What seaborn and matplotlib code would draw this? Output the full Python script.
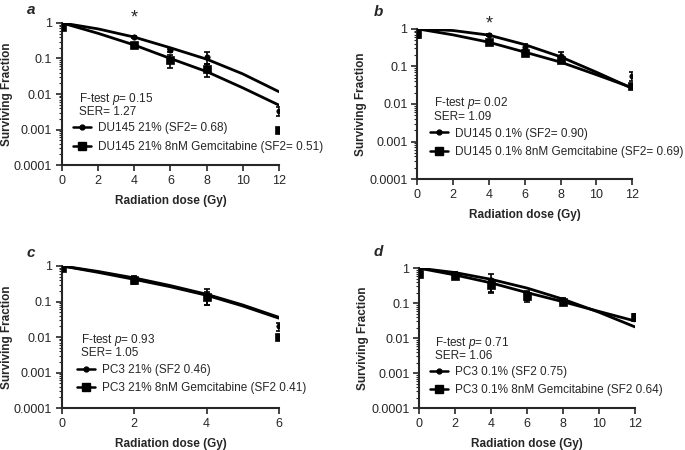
import matplotlib
matplotlib.use("Agg")
import matplotlib.pyplot as plt
import seaborn as sns
import numpy as np
from matplotlib.lines import Line2D
from matplotlib.ticker import LogLocator, NullFormatter

# ---- data ----
# panel a: DU145 21%
a_dose = [0, 4, 6, 8, 12]
a_ctl = [1.0, 0.40, 0.17, 0.11, 0.0033]
a_ctl_err = [0.08, 0.02, 0.02, 0.04, 0.0009]
a_gem = [0.78, 0.24, 0.09, 0.05, 0.001]
a_gem_err = [0.12, 0.02, 0.035, 0.02, 0.0]
a_fit_x = [0, 2, 4, 6, 8, 10, 12]
a_fit_ctl = [1.0, 0.68, 0.40, 0.20, 0.096, 0.037, 0.0117]
a_fit_gem = [1.0, 0.51, 0.24, 0.10, 0.043, 0.015, 0.0049]

# panel b: DU145 0.1%
b_dose = [0, 4, 6, 8, 12]
b_ctl = [0.95, 0.68, 0.33, 0.19, 0.055]
b_ctl_err = [0.08, 0.05, 0.06, 0.05, 0.015]
b_gem = [0.72, 0.44, 0.23, 0.15, 0.03]
b_gem_err = [0.15, 0.03, 0.04, 0.03, 0.005]
b_fit_x = [0, 2, 4, 6, 8, 10, 12]
b_fit_ctl = [1.0, 0.90, 0.68, 0.38, 0.18, 0.07, 0.026]
b_fit_gem = [1.0, 0.69, 0.44, 0.24, 0.13, 0.06, 0.027]

# panel c: PC3 21%
c_dose = [0, 2, 4, 6]
c_ctl = [1.0, 0.45, 0.15, 0.02]
c_ctl_err = [0.08, 0.06, 0.07, 0.005]
c_gem = [0.85, 0.40, 0.13, 0.01]
c_gem_err = [0.1, 0.08, 0.05, 0.0]
c_fit_x = [0, 1, 2, 3, 4, 5, 6]
c_fit_ctl = [1.0, 0.70, 0.46, 0.28, 0.16, 0.08, 0.036]
c_fit_gem = [1.0, 0.66, 0.42, 0.26, 0.15, 0.075, 0.034]

# panel d: PC3 0.1%
d_dose = [0, 2, 4, 6, 8, 12]
d_ctl = [0.95, 0.70, 0.45, 0.17, 0.12, 0.04]
d_ctl_err = [0.08, 0.1, 0.25, 0.05, 0.02, 0.008]
d_gem = [0.70, 0.60, 0.33, 0.16, 0.11, 0.04]
d_gem_err = [0.15, 0.08, 0.12, 0.05, 0.015, 0.01]
d_fit_x = [0, 2, 4, 6, 8, 10, 12]
d_fit_ctl = [1.0, 0.75, 0.48, 0.27, 0.13, 0.055, 0.021]
d_fit_gem = [1.0, 0.64, 0.38, 0.20, 0.11, 0.058, 0.031]

sns.set_style("ticks")
plt.rcParams['font.family'] = ['Liberation Sans', 'DejaVu Sans']
plt.rcParams['mathtext.fontset'] = 'custom'
plt.rcParams['mathtext.rm'] = 'Liberation Sans'
plt.rcParams['mathtext.it'] = 'Liberation Sans:italic'

fig = plt.figure(figsize=(6.85, 4.5), dpi=100)

# layout per panel: axes rect, ylabel x, text x / rows (axes fractions)
panels = [
    dict(letter='a', rect=[0.0905, 0.633, 0.3165, 0.316], dose=a_dose, ctl=a_ctl, ctl_err=a_ctl_err,
         gem=a_gem, gem_err=a_gem_err, fx=a_fit_x, fc=a_fit_ctl, fg=a_fit_gem, xmax=12,
         ftest='0.15', ser='1.27', lab1='DU145 21% (SF2= 0.68)',
         lab2='DU145 21% 8nM Gemcitabine (SF2= 0.51)', star=True,
         ylx=-0.226, tx=0.077, rows=(0.468, 0.376, 0.259, 0.129), hx=0.05, lpos=(31, 10)),
    dict(letter='b', rect=[0.609, 0.602, 0.314, 0.334], dose=b_dose, ctl=b_ctl, ctl_err=b_ctl_err,
         gem=b_gem, gem_err=b_gem_err, fx=b_fit_x, fc=b_fit_ctl, fg=b_fit_gem, xmax=12,
         ftest='0.02', ser='1.09', lab1='DU145 0.1% (SF2= 0.90)',
         lab2='DU145 0.1% 8nM Gemcitabine (SF2= 0.69)', star=True,
         ylx=-0.233, tx=0.077, rows=(0.503, 0.416, 0.3, 0.182), hx=0.059, lpos=(378, 12)),
    dict(letter='c', rect=[0.0905, 0.093, 0.3165, 0.316], dose=c_dose, ctl=c_ctl, ctl_err=c_ctl_err,
         gem=c_gem, gem_err=c_gem_err, fx=c_fit_x, fc=c_fit_ctl, fg=c_fit_gem, xmax=6,
         ftest='0.93', ser='1.05', lab1='PC3 21% (SF2 0.46)',
         lab2='PC3 21% 8nM Gemcitabine (SF2 0.41)', star=False,
         ylx=-0.226, tx=0.089, rows=(0.48, 0.387, 0.272, 0.136), hx=0.069, lpos=(31, 253)),
    dict(letter='d', rect=[0.612, 0.093, 0.315, 0.311], dose=d_dose, ctl=d_ctl, ctl_err=d_ctl_err,
         gem=d_gem, gem_err=d_gem_err, fx=d_fit_x, fc=d_fit_ctl, fg=d_fit_gem, xmax=12,
         ftest='0.71', ser='1.06', lab1='PC3 0.1% (SF2 0.75)',
         lab2='PC3 0.1% 8nM Gemcitabine (SF2 0.64)', star=False,
         ylx=-0.235, tx=0.074, rows=(0.468, 0.372, 0.26, 0.126), hx=0.051, lpos=(378, 252)),
]

fs = 8.5
for p in panels:
    ax = fig.add_axes(p['rect'])
    ax.set_yscale('log')
    # fitted curves
    sns.lineplot(x=p['fx'], y=p['fc'], ax=ax, color='black', lw=2.0, legend=False)
    sns.lineplot(x=p['fx'], y=p['fg'], ax=ax, color='black', lw=2.0, legend=False)
    # data points with error bars
    ax.errorbar(p['dose'], p['ctl'], yerr=p['ctl_err'], fmt='none', ecolor='black',
                elinewidth=1.2, capsize=2.5, capthick=1.2)
    ax.errorbar(p['dose'], p['gem'], yerr=p['gem_err'], fmt='none', ecolor='black',
                elinewidth=1.2, capsize=2.5, capthick=1.2)
    sns.scatterplot(x=p['dose'], y=p['ctl'], ax=ax, color='black', marker='o', s=16,
                    edgecolor='black', zorder=5, legend=False)
    sns.scatterplot(x=p['dose'], y=p['gem'], ax=ax, color='black', marker='s', s=36,
                    edgecolor='black', zorder=5, legend=False)

    ax.set_xlim(0, p['xmax'])
    ax.set_ylim(1e-4, 1.0)
    ax.set_xticks(range(0, p['xmax'] + 1, 2))
    ax.set_yticks([1e-4, 1e-3, 1e-2, 1e-1, 1])
    ax.set_yticklabels(['0.0001', '0.001', '0.01', '0.1', '1'])
    ax.yaxis.set_minor_locator(LogLocator(base=10, subs=np.arange(2, 10)))
    ax.yaxis.set_minor_formatter(NullFormatter())
    ax.tick_params(axis='both', which='major', labelsize=9, length=4, width=1.2,
                   direction='out', pad=3)
    ax.tick_params(axis='y', which='minor', length=2.5, width=0.8, direction='out')
    for s in ['left', 'bottom']:
        ax.spines[s].set_linewidth(1.5)
    sns.despine(ax=ax)
    ax.set_xlabel('Radiation dose (Gy)', fontsize=fs, fontweight='bold', labelpad=6)
    ax.set_ylabel('Surviving Fraction', fontsize=fs, fontweight='bold')
    ax.yaxis.set_label_coords(p['ylx'], 0.5)

    r = p['rows']
    ax.text(p['tx'], r[0], 'F-test $p$= ' + p['ftest'], transform=ax.transAxes,
            fontsize=fs, va='center')
    ax.text(p['tx'], r[1], 'SER= ' + p['ser'], transform=ax.transAxes,
            fontsize=fs, va='center')
    handles = [
        Line2D([], [], color='black', lw=1.8, marker='o', markersize=3.5),
        Line2D([], [], color='black', lw=1.8, marker='s', markersize=6),
    ]
    ax.legend(handles, [p['lab1'], p['lab2']], loc='center left',
              bbox_to_anchor=(p['hx'], (r[2] + r[3]) / 2), frameon=False, fontsize=fs,
              handlelength=1.5, handletextpad=0.6, labelspacing=0.55,
              borderaxespad=0, borderpad=0)
    if p['star']:
        ax.text(4, 1.035, '*', transform=ax.get_xaxis_transform(), ha='center',
                va='center', fontsize=13)
    lx, ly = p['lpos']
    fig.text(lx / 685, 1 - ly / 450, p['letter'], fontsize=11, fontweight='bold',
             fontstyle='italic', ha='center', va='center')

fig.savefig('out.png', dpi=100)
